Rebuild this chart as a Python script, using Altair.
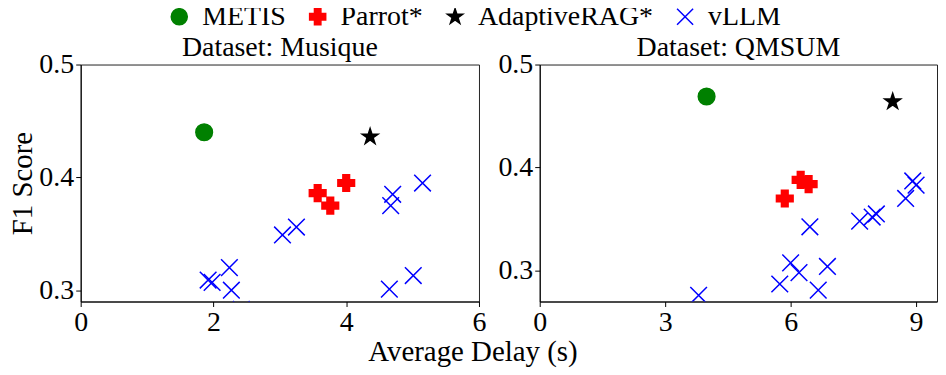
import altair as alt
import pandas as pd

FONT = "Liberation Serif"

STAR = ("M0,-1L0.2245,-0.309L0.9511,-0.309L0.3633,0.118L0.5878,0.809L0,0.382"
        "L-0.5878,0.809L-0.3633,0.118L-0.9511,-0.309L-0.2245,-0.309Z")
XMARK = "M-1,-1L1,1M-1,1L1,-1"

methods = ["METIS", "Parrot*", "AdaptiveRAG*", "vLLM"]
method_fill = ["green", "red", "black", "transparent"]
method_stroke = ["green", "red", "black", "blue"]
method_shape = ["circle", "cross", STAR, XMARK]

# Musique panel
mus_metis_x = [1.86]
mus_metis_y = [0.440]
mus_parrot_x = [3.57, 3.76, 4.00]
mus_parrot_y = [0.386, 0.375, 0.395]
mus_adaptive_x = [4.36]
mus_adaptive_y = [0.436]
mus_vllm_x = [1.92, 1.98, 2.24, 2.27, 2.42, 3.04, 3.25, 4.67, 4.70, 5.15, 4.65, 5.01]
mus_vllm_y = [0.309, 0.307, 0.320, 0.300, 0.283, 0.349, 0.356, 0.375, 0.385, 0.395, 0.301, 0.313]

# QMSUM panel
qm_metis_x = [3.99]
qm_metis_y = [0.469]
qm_parrot_x = [5.86, 6.24, 6.43]
qm_parrot_y = [0.370, 0.388, 0.384]
qm_adaptive_x = [8.44]
qm_adaptive_y = [0.464]
qm_vllm_x = [3.80, 6.46, 6.00, 6.20, 5.74, 6.66, 6.88, 7.65, 7.95, 8.05, 8.75, 8.92, 9.00]
qm_vllm_y = [0.276, 0.3425, 0.3075, 0.298, 0.287, 0.281, 0.304, 0.348, 0.352, 0.355, 0.370, 0.387, 0.383]

mus_xticks = [0, 2, 4, 6]
qm_xticks = [0, 3, 6, 9]
yticks = [0.3, 0.4, 0.5]


def build(groups):
    rows = []
    for name, xs, ys in groups:
        for x, y in zip(xs, ys):
            rows.append({"method": name, "delay": x, "f1": y})
    return pd.DataFrame(rows)


mus_df = build([
    ("METIS", mus_metis_x, mus_metis_y),
    ("Parrot*", mus_parrot_x, mus_parrot_y),
    ("AdaptiveRAG*", mus_adaptive_x, mus_adaptive_y),
    ("vLLM", mus_vllm_x, mus_vllm_y),
])
qm_df = build([
    ("METIS", qm_metis_x, qm_metis_y),
    ("Parrot*", qm_parrot_x, qm_parrot_y),
    ("AdaptiveRAG*", qm_adaptive_x, qm_adaptive_y),
    ("vLLM", qm_vllm_x, qm_vllm_y),
])

legend = alt.Legend(title=None, orient="none", direction="horizontal", columns=4,
                    legendX=85, legendY=-62, labelLimit=0)


def panel(df, title, xdom, xticks, ydom, ytitle, width):
    return alt.Chart(df).mark_point(
        strokeWidth=1.5, opacity=1, size=280, clip=True
    ).encode(
        x=alt.X("delay:Q", scale=alt.Scale(domain=xdom, nice=False, zero=False),
                axis=alt.Axis(values=xticks, format="d", title="", grid=False,
                              labelFlush=False, labelOverlap=False)),
        y=alt.Y("f1:Q", scale=alt.Scale(domain=ydom, nice=False, zero=False),
                axis=alt.Axis(values=yticks, format=".1f", grid=False, title=ytitle,
                              labelFlush=False, labelOverlap=False)),
        shape=alt.Shape("method:N", scale=alt.Scale(domain=methods, range=method_shape),
                        legend=legend),
        fill=alt.Fill("method:N", scale=alt.Scale(domain=methods, range=method_fill),
                      legend=legend),
        stroke=alt.Stroke("method:N", scale=alt.Scale(domain=methods, range=method_stroke),
                          legend=legend),
    ).properties(
        width=width, height=238,
        title=alt.TitleParams(title, frame="group", offset=-11),
    )


left = panel(mus_df, "Dataset: Musique", [0, 6], mus_xticks, [0.29, 0.5], "F1 Score", 400)
right = panel(qm_df, "Dataset: QMSUM", [0, 9.5], qm_xticks, [0.27, 0.5], "", 399)

chart = alt.hconcat(left, right, spacing=10).resolve_scale(
    shape="shared", fill="shared", stroke="shared"
).properties(
    title=alt.TitleParams("Average Delay (s)", orient="bottom", anchor="middle",
                          fontSize=29, font=FONT, fontWeight="normal", color="black",
                          offset=1)
).configure(
    padding={"top": -6, "left": 0, "right": 0, "bottom": 0},
    font=FONT,
).configure_title(
    fontSize=28, font=FONT, fontWeight="normal", color="black"
).configure_view(
    stroke="#222222", strokeWidth=1
).configure_axis(
    labelFont=FONT, labelFontSize=28, labelColor="black",
    titleFont=FONT, titleFontSize=29, titleColor="black", titleFontWeight="normal",
    domainColor="black", tickColor="black", tickSize=5, labelPadding=2,
    titlePadding=1,
).configure_legend(
    labelFont=FONT, labelFontSize=28, labelColor="black", padding=0,
    symbolSize=260, symbolStrokeWidth=1.5, labelOffset=9, columnPadding=18,
    symbolOpacity=1,
)

chart.save("out.html", embed_options={"renderer": "svg", "actions": False})
